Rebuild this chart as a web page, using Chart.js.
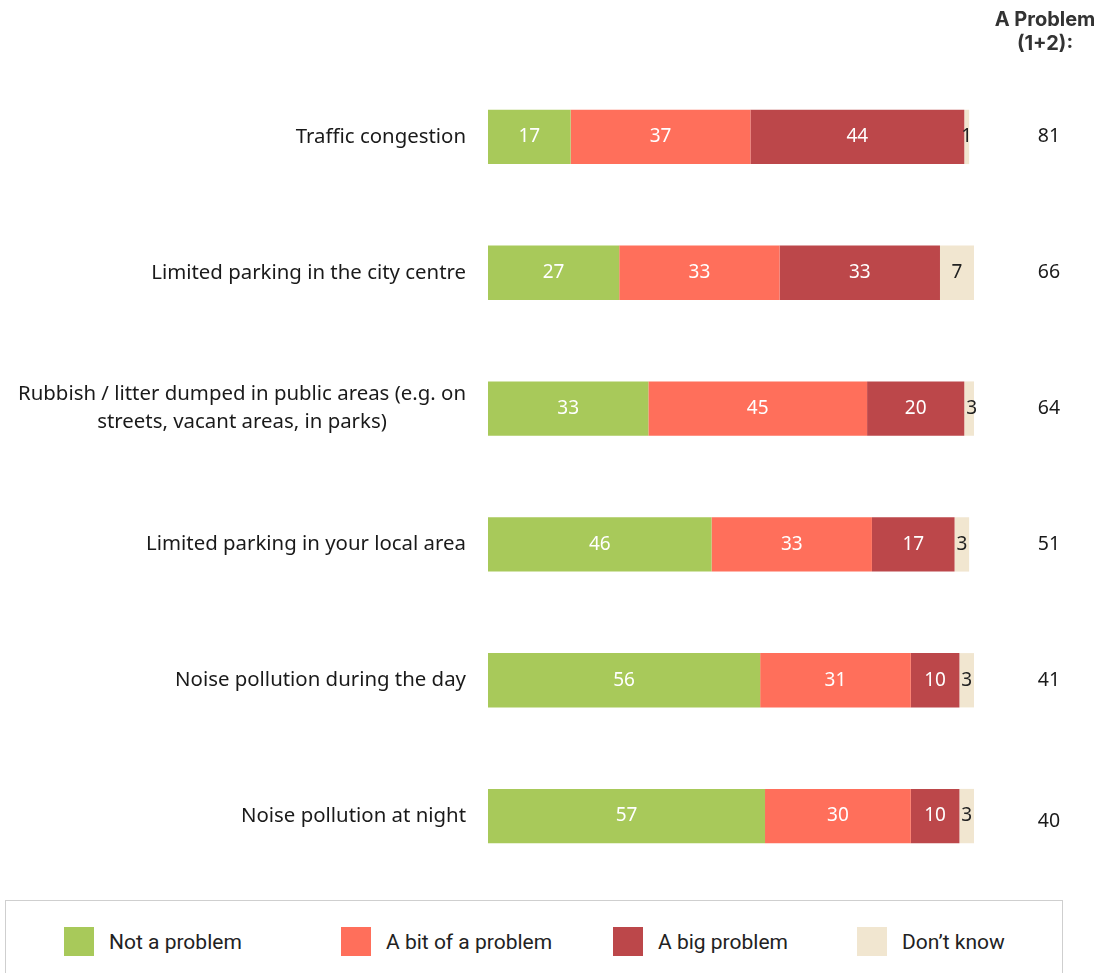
<!DOCTYPE html>
<html>
<head>
<meta charset="utf-8">
<script src="https://cdn.jsdelivr.net/npm/chart.js@4.4.1/dist/chart.umd.min.js"></script>
<style>
  body { margin: 0; background: #fff; width: 1101px; height: 973px; overflow: hidden; position: relative; }
  #wrap { position: absolute; left: 0; top: 0; width: 1101px; height: 890px; }
  #legend { position: absolute; left: 5px; top: 900px; width: 1058px; height: 90px; border: 1px solid #cfcfcf; box-sizing: border-box; font-family: Roboto, "Noto Sans", sans-serif; font-size: 21px; color: #222; }
  .item { position: absolute; top: 26px; display: flex; align-items: center; }
  .sw { width: 30px; height: 29px; margin-right: 15px; }
</style>
</head>
<body>
<div id="wrap"><canvas id="chart"></canvas></div>
<div id="legend"></div>
<script>
var categories = [
  'Traffic congestion',
  'Limited parking in the city centre',
  ['Rubbish / litter dumped in public areas (e.g. on', 'streets, vacant areas, in parks)'],
  'Limited parking in your local area',
  'Noise pollution during the day',
  'Noise pollution at night'
];
var notProblem = [17, 27, 33, 46, 56, 57];
var bitProblem = [37, 33, 45, 33, 31, 30];
var bigProblem = [44, 33, 20, 17, 10, 10];
var dontKnow = [1, 7, 3, 3, 3, 3];
var aProblem = [81, 66, 64, 51, 41, 40];
var seriesNames = ['Not a problem', 'A bit of a problem', 'A big problem', 'Don\u2019t know'];
var colours = ['#a8c95a', '#ff6f5b', '#bc474a', '#f1e6d0'];
var labelColours = ['#ffffff', '#ffffff', '#ffffff', '#222222'];

var font = '"Noto Sans", sans-serif';

// draws category labels, segment values and the right-hand column
var textPlugin = {
  id: 'texts',
  afterDatasetsDraw: function(chart) {
    var ctx = chart.ctx;
    var yScale = chart.scales.y;
    ctx.save();
    ctx.textBaseline = 'middle';

    // segment values
    ctx.font = '19px ' + font;
    ctx.textAlign = 'center';
    chart.data.datasets.forEach(function(ds, di) {
      var meta = chart.getDatasetMeta(di);
      meta.data.forEach(function(bar, i) {
        var cx = (bar.x + bar.base) / 2;
        ctx.fillStyle = labelColours[di];
        ctx.fillText(String(ds.data[i]), cx, bar.y);
      });
    });

    // category labels, block right-aligned, lines centred
    ctx.font = '20.4px ' + font;
    ctx.fillStyle = '#1a1a1a';
    categories.forEach(function(lab, i) {
      var lines = Array.isArray(lab) ? lab : [lab];
      var w = 0;
      lines.forEach(function(l) { w = Math.max(w, ctx.measureText(l).width); });
      var cx = chart.chartArea.left - 22 - w / 2;
      var y = yScale.getPixelForValue(i);
      var lh = 28;
      lines.forEach(function(l, k) {
        ctx.fillText(l, cx, y + (k - (lines.length - 1) / 2) * lh);
      });
    });

    // right column
    ctx.font = '19.5px ' + font;
    aProblem.forEach(function(v, i) {
      var y = yScale.getPixelForValue(i);
      ctx.fillText(String(v), 1049, y + (i === aProblem.length - 1 ? 5 : 0));
    });
    ctx.font = 'bold 20px Inter, Roboto, ' + font;
    ctx.fillStyle = '#333';
    ctx.fillText('A Problem', 1045, 20);
    ctx.fillText('(1+2):', 1045, 44);
    ctx.restore();
  }
};

var datasets = [notProblem, bitProblem, bigProblem, dontKnow].map(function(d, i) {
  return {
    label: seriesNames[i],
    data: d,
    backgroundColor: colours[i],
    borderWidth: 0,
    barPercentage: 0.4,
    categoryPercentage: 1
  };
});

var chart = new Chart(document.getElementById('chart').getContext('2d'), {
  type: 'bar',
  data: { labels: categories, datasets: datasets },
  options: {
    indexAxis: 'y',
    responsive: true,
    maintainAspectRatio: false,
    animation: false,
    layout: { padding: { left: 488, right: 127, top: 69, bottom: 6 } },
    plugins: { legend: { display: false }, tooltip: { enabled: false } },
    scales: {
      x: { stacked: true, min: 0, max: 100, display: false },
      y: { stacked: true, display: false }
    }
  },
  plugins: [textPlugin]
});

// legend
var legend = document.getElementById('legend');
var lefts = [58, 335, 607, 851];
seriesNames.forEach(function(n, i) {
  var it = document.createElement('div');
  it.className = 'item';
  it.style.left = lefts[i] + 'px';
  it.innerHTML = '<div class="sw" style="background:' + colours[i] + '"></div><span>' + n + '</span>';
  legend.appendChild(it);
});
</script>
</body>
</html>
